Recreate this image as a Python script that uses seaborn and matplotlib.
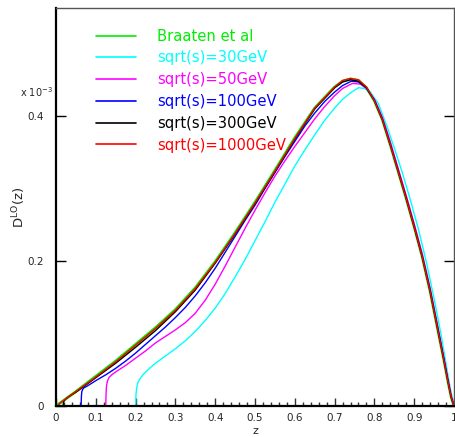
import matplotlib
matplotlib.use("Agg")
import matplotlib.pyplot as plt
import seaborn as sns
import pandas as pd
from matplotlib.ticker import MultipleLocator, FixedLocator

# ---- data (values in units of 1e-3) ----
labels = ["Braaten et al", "sqrt(s)=30GeV", "sqrt(s)=50GeV",
          "sqrt(s)=100GeV", "sqrt(s)=300GeV", "sqrt(s)=1000GeV"]
colors = ["#00ee00", "#00ffff", "#ff00ff", "#0000ff", "#000000", "#ff0000"]

z_braaten = [0, 0.05, 0.1, 0.15, 0.2, 0.25, 0.3, 0.35, 0.4, 0.45, 0.5, 0.55, 0.6,
             0.65, 0.7, 0.72, 0.74, 0.76, 0.78, 0.8, 0.82, 0.84, 0.86, 0.88, 0.9,
             0.92, 0.94, 0.96, 0.975, 0.985, 0.993, 1.0]
d_braaten = [0, 0.020, 0.041, 0.062, 0.085, 0.108, 0.133, 0.163, 0.199, 0.239,
             0.281, 0.325, 0.370, 0.411, 0.440, 0.448, 0.451, 0.449, 0.439, 0.421,
             0.395, 0.360, 0.323, 0.286, 0.247, 0.206, 0.158, 0.103, 0.062, 0.033,
             0.012, 0]

z_30 = [0.2, 0.2005, 0.201, 0.2025, 0.205, 0.21, 0.22, 0.235, 0.25, 0.275, 0.3,
        0.325, 0.35, 0.375, 0.4, 0.425, 0.45, 0.475, 0.5, 0.525, 0.55, 0.575, 0.6,
        0.625, 0.65, 0.675, 0.7, 0.72, 0.74, 0.76, 0.775, 0.79, 0.81, 0.83, 0.85,
        0.87, 0.89, 0.91, 0.93, 0.95, 0.967, 0.98, 0.99, 0.996, 1.0]
d_30 = [0, 0.008, 0.016, 0.024, 0.031, 0.037, 0.044, 0.052, 0.059, 0.069, 0.079,
        0.090, 0.103, 0.118, 0.135, 0.155, 0.178, 0.202, 0.228, 0.254, 0.281, 0.306,
        0.331, 0.353, 0.374, 0.394, 0.411, 0.423, 0.432, 0.439, 0.438, 0.433, 0.417,
        0.388, 0.356, 0.322, 0.285, 0.245, 0.200, 0.148, 0.100, 0.058, 0.026, 0.009, 0]

z_50 = [0.125, 0.1255, 0.126, 0.127, 0.129, 0.133, 0.14, 0.15, 0.175, 0.2, 0.225,
        0.25, 0.275, 0.3, 0.325, 0.35, 0.375, 0.4, 0.425, 0.45, 0.475, 0.5, 0.525,
        0.55, 0.575, 0.6, 0.625, 0.65, 0.675, 0.7, 0.72, 0.745, 0.765, 0.78, 0.8,
        0.82, 0.84, 0.86, 0.88, 0.9, 0.92, 0.94, 0.96, 0.975, 0.985, 0.993, 1.0]
d_50 = [0, 0.010, 0.020, 0.028, 0.034, 0.039, 0.043, 0.047, 0.056, 0.066, 0.076,
        0.087, 0.096, 0.105, 0.115, 0.128, 0.146, 0.168, 0.193, 0.219, 0.245, 0.270,
        0.294, 0.317, 0.338, 0.358, 0.377, 0.396, 0.413, 0.428, 0.438, 0.445, 0.444,
        0.438, 0.423, 0.398, 0.364, 0.327, 0.290, 0.251, 0.210, 0.162, 0.107, 0.065,
        0.036, 0.013, 0]

z_100 = [0.063, 0.0635, 0.064, 0.065, 0.067, 0.07, 0.08, 0.1, 0.125, 0.15, 0.175,
         0.2, 0.225, 0.25, 0.275, 0.3, 0.325, 0.35, 0.375, 0.4, 0.425, 0.45, 0.475,
         0.5, 0.525, 0.55, 0.575, 0.6, 0.625, 0.65, 0.675, 0.7, 0.72, 0.742, 0.76,
         0.78, 0.8, 0.82, 0.84, 0.86, 0.88, 0.9, 0.92, 0.94, 0.96, 0.975, 0.985,
         0.993, 1.0]
d_100 = [0, 0.008, 0.015, 0.020, 0.023, 0.025, 0.028, 0.035, 0.043, 0.052, 0.062,
         0.073, 0.085, 0.097, 0.109, 0.122, 0.136, 0.152, 0.170, 0.190, 0.212, 0.234,
         0.256, 0.277, 0.300, 0.322, 0.344, 0.365, 0.386, 0.404, 0.420, 0.433, 0.442,
         0.448, 0.447, 0.439, 0.422, 0.396, 0.361, 0.324, 0.287, 0.248, 0.207, 0.160,
         0.105, 0.064, 0.035, 0.013, 0]

z_300 = [0.018, 0.0185, 0.02, 0.025, 0.035, 0.05, 0.075, 0.1, 0.15, 0.2, 0.25, 0.3,
         0.35, 0.4, 0.45, 0.5, 0.55, 0.6, 0.65, 0.7, 0.72, 0.74, 0.76, 0.78, 0.8,
         0.82, 0.84, 0.86, 0.88, 0.9, 0.92, 0.94, 0.96, 0.975, 0.985, 0.993, 1.0]
d_300 = [0, 0.004, 0.007, 0.010, 0.014, 0.019, 0.029, 0.039, 0.059, 0.081, 0.104,
         0.130, 0.160, 0.197, 0.237, 0.279, 0.323, 0.368, 0.410, 0.439, 0.447, 0.450,
         0.448, 0.439, 0.421, 0.395, 0.360, 0.323, 0.286, 0.247, 0.206, 0.158, 0.103,
         0.062, 0.033, 0.012, 0]

z_1000 = [0.006, 0.0065, 0.008, 0.012, 0.025, 0.05, 0.1, 0.15, 0.2, 0.25, 0.3, 0.35,
          0.4, 0.45, 0.5, 0.55, 0.6, 0.65, 0.7, 0.72, 0.74, 0.76, 0.78, 0.8, 0.82,
          0.84, 0.86, 0.88, 0.9, 0.92, 0.94, 0.96, 0.975, 0.985, 0.993, 1.0]
d_1000 = [0, 0.002, 0.003, 0.005, 0.010, 0.020, 0.040, 0.061, 0.084, 0.107, 0.132,
          0.162, 0.198, 0.238, 0.280, 0.324, 0.369, 0.411, 0.440, 0.449, 0.452, 0.450,
          0.440, 0.421, 0.395, 0.360, 0.323, 0.286, 0.247, 0.206, 0.158, 0.103,
          0.062, 0.033, 0.012, 0]

series_z = [z_braaten, z_30, z_50, z_100, z_300, z_1000]
series_d = [d_braaten, d_30, d_50, d_100, d_300, d_1000]

xticks = [0, 0.1, 0.2, 0.3, 0.4, 0.5, 0.6, 0.7, 0.8, 0.9, 1]
xticklabels = ["0", "0.1", "0.2", "0.3", "0.4", "0.5", "0.6", "0.7", "0.8", "0.9", "1"]
yticks = [0, 0.2, 0.4]
yticklabels = ["0", "0.2", "0.4"]

frames = []
for lab, zs, ds in zip(labels, series_z, series_d):
    frames.append(pd.DataFrame({"z": zs, "D": ds, "series": lab}))
df = pd.concat(frames, ignore_index=True)

sns.set_theme(style="white")
plt.rcParams["font.family"] = ["DejaVu Sans"]

fig = plt.figure(figsize=(4.55, 4.37), dpi=100)
ax = fig.add_axes([56 / 455, 31 / 437, 398 / 455, 398 / 437])

palette = dict(zip(labels, colors))
widths = {labels[0]: 2.0}
for lab in labels:
    sub = df[df["series"] == lab]
    sns.lineplot(data=sub, x="z", y="D", color=palette[lab], sort=False,
                 linewidth=widths.get(lab, 1.0), ax=ax, legend=False,
                 estimator=None)

ax.set_xlim(0, 1)
ax.set_ylim(0, 0.549)
ax.xaxis.set_major_locator(FixedLocator(xticks))
ax.set_xticklabels(xticklabels)
ax.xaxis.set_minor_locator(MultipleLocator(0.02))
ax.yaxis.set_major_locator(FixedLocator(yticks))
ax.set_yticklabels(yticklabels)

ax.tick_params(axis="x", which="major", direction="in", length=6, width=1,
               color="#333333", labelsize=7.5, pad=5, bottom=True, top=False)
ax.tick_params(axis="x", which="minor", direction="in", length=3, width=1,
               color="#333333", bottom=True, top=False)
ax.tick_params(axis="y", which="major", direction="in", length=7, width=1,
               color="black", labelsize=7.5, pad=9, left=True, right=True)

for side in ["left", "bottom"]:
    ax.spines[side].set_color("black")
    ax.spines[side].set_linewidth(1.6)
for side in ["top", "right"]:
    ax.spines[side].set_color("#555555")
    ax.spines[side].set_linewidth(1.0)

ax.set_xlabel("z", fontsize=8, labelpad=2)
ax.set_ylabel(r"D$^{\rm LO}$(z)", fontsize=9.5, labelpad=-1)
ax.text(-0.008, 0.776, r"x 10$^{-3}$", transform=ax.transAxes,
        ha="right", va="baseline", fontsize=7)

handles = ax.get_lines()[:len(labels)]
leg = ax.legend(handles, labels, loc="upper left", bbox_to_anchor=(0.1, 0.948),
                frameon=False, fontsize=10.6, handlelength=2.72, handletextpad=1.42,
                labelspacing=0.46, borderaxespad=0, borderpad=0)
for txt, c in zip(leg.get_texts(), colors):
    txt.set_color(c)
for h in leg.get_lines():
    h.set_linewidth(1.2)

fig.savefig("out.png", dpi=100)
